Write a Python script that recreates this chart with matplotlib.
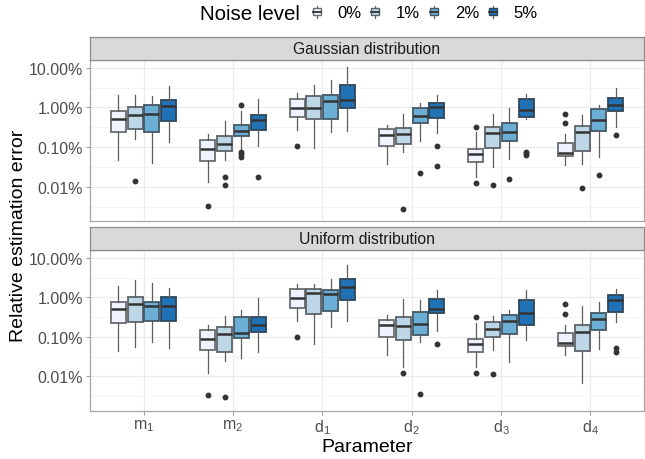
import numpy as np
import matplotlib
matplotlib.use("Agg")
import matplotlib.pyplot as plt
from matplotlib.patches import Rectangle, Patch
from matplotlib.lines import Line2D
from matplotlib.legend_handler import HandlerBase
from matplotlib.colors import to_rgb

plt.rcParams['font.family'] = ['Liberation Sans', 'DejaVu Sans']
plt.rcParams['mathtext.default'] = 'regular'

# categories
param_labels = [r'$m_1$', r'$m_2$', r'$d_1$', r'$d_2$', r'$d_3$', r'$d_4$']
noise_levels = ['0%', '1%', '2%', '5%']
colors = ['#EFF3FF', '#BDD7E7', '#6BAED6', '#2171B5']
facets = ['Gaussian distribution', 'Uniform distribution']

# log10 of the relative error in percent, per parameter -> per noise level:
# (whisker low, q1, median, q3, whisker high)
gauss_box = [
    [(-1.335, -0.63, -0.285, -0.09, 0.32), (-0.79, -0.55, -0.19, 0.0, 0.32),
     (-1.40, -0.62, -0.16, 0.06, 0.29), (-0.88, -0.34, 0.025, 0.19, 0.54)],
    [(-1.88, -1.34, -1.04, -0.81, -0.68), (-1.32, -1.10, -0.92, -0.73, -0.34),
     (-1.07, -0.72, -0.59, -0.44, -0.09), (-0.97, -0.57, -0.31, -0.18, 0.22)],
    [(-0.57, -0.24, -0.025, 0.22, 0.36), (-1.01, -0.29, -0.01, 0.29, 0.57),
     (-0.62, -0.28, 0.17, 0.31, 0.69), (-0.59, -0.02, 0.20, 0.56, 1.02)],
    [(-1.43, -0.98, -0.70, -0.55, -0.44), (-1.11, -0.91, -0.67, -0.51, -0.17),
     (-0.85, -0.39, -0.21, -0.015, 0.11), (-0.645, -0.27, 0.01, 0.11, 0.32)],
    [(-1.74, -1.37, -1.17, -1.05, -0.62), (-1.49, -1.02, -0.64, -0.49, -0.17),
     (-1.31, -0.85, -0.61, -0.40, -0.015), (-0.30, -0.25, -0.06, 0.21, 0.345)],
    [(-1.44, -1.22, -1.14, -0.90, -0.67), (-1.42, -1.10, -0.61, -0.47, -0.18),
     (-1.26, -0.59, -0.31, -0.05, 0.07), (-0.48, -0.09, 0.07, 0.25, 0.48)],
]
gauss_out = [
    [[], [-1.84], [], []],
    [[-2.47], [-1.74, -1.95], [0.05, -1.12, -1.18, -1.24], [-1.75]],
    [[-0.98], [], [], []],
    [[], [-2.56], [-1.64], [-0.96, -1.48]],
    [[-0.49, -1.91], [-1.95], [-1.80], [-1.11, -1.15, -1.20]],
    [[-0.17, -0.39], [-2.04], [-1.69], [-0.70]],
]

unif_box = [
    [(-1.36, -0.645, -0.30, -0.12, 0.295), (-1.26, -0.62, -0.18, 0.02, 0.44),
     (-1.12, -0.59, -0.23, -0.12, 0.36), (-1.27, -0.59, -0.22, 0.0, 0.24)],
    [(-1.90, -1.34, -1.05, -0.83, -0.695), (-1.62, -1.37, -0.92, -0.76, -0.48),
     (-1.54, -1.03, -0.90, -0.50, -0.32), (-1.385, -0.88, -0.705, -0.51, -0.015)],
    [(-0.59, -0.27, -0.03, 0.21, 0.34), (-1.18, -0.41, 0.11, 0.21, 0.345),
     (-0.755, -0.335, 0.09, 0.19, 0.47), (-0.60, -0.06, 0.27, 0.47, 0.82)],
    [(-1.45, -1.0, -0.71, -0.57, -0.44), (-1.75, -1.07, -0.73, -0.51, -0.04),
     (-1.14, -0.94, -0.67, -0.36, -0.06), (-0.86, -0.39, -0.285, -0.04, 0.19)],
    [(-1.75, -1.375, -1.18, -1.05, -0.64), (-1.32, -1.0, -0.81, -0.62, -0.47),
     (-1.63, -0.92, -0.60, -0.45, -0.32), (-1.07, -0.69, -0.40, -0.08, 0.19)],
    [(-1.45, -1.23, -1.16, -0.91, -0.695), (-2.16, -1.35, -0.88, -0.71, -0.23),
     (-1.30, -0.83, -0.55, -0.39, -0.12), (-0.62, -0.36, -0.075, 0.06, 0.21)],
]
unif_out = [
    [[], [], [], []],
    [[-2.48], [-2.53], [], []],
    [[-1.0], [], [], []],
    [[], [-1.90], [-2.45], [-1.17]],
    [[-0.50, -1.92], [-1.95], [], []],
    [[-0.18, -0.41], [], [], [-1.27, -1.39]],
]

y_ticks = [0.01, 0.1, 1, 10]
y_ticklabels = ['0.01%', '0.10%', '1.00%', '10.00%']


def edge_of(fc):
    # darker outline, blended with the fill like ggplot's semi-transparent lines
    a = np.array(to_rgb('#333333'))
    b = np.array(to_rgb(fc))
    return tuple(0.7 * a + 0.3 * b)


W, H = 645, 460
fig = plt.figure(figsize=(W / 100, H / 100), dpi=100)


def px_axes(x0, y0, x1, y1):
    return fig.add_axes([x0 / W, (H - y1) / H, (x1 - x0) / W, (y1 - y0) / H])


def draw_panel(ax, boxes, outs):
    dodge = 0.1875
    for i in range(len(param_labels)):
        for j in range(len(noise_levels)):
            lo, q1, med, q3, hi = boxes[i][j]
            st = dict(whislo=10 ** lo, q1=10 ** q1, med=10 ** med, q3=10 ** q3,
                      whishi=10 ** hi, fliers=[10 ** v for v in outs[i][j]])
            pos = i + 1 + (j - 1.5) * dodge
            ec = edge_of(colors[j])
            ax.bxp([st], positions=[pos], widths=0.168, patch_artist=True,
                   showcaps=False,
                   boxprops=dict(facecolor=colors[j], edgecolor=ec, linewidth=1.3),
                   medianprops=dict(color='#333333', linewidth=1.8),
                   whiskerprops=dict(color='#5E5E5E', linewidth=0.9),
                   flierprops=dict(marker='o', markersize=3.2, markerfacecolor='#333333',
                                   markeredgecolor='#333333'),
                   zorder=3)
    ax.set_yscale('log')
    ax.set_ylim(10 ** -2.86, 10 ** 1.195)
    ax.set_xlim(0.4, 6.6)
    ax.set_yticks(y_ticks)
    ax.set_yticklabels(y_ticklabels)
    ax.set_yticks([10 ** -1.5, 10 ** -0.5, 10 ** 0.5, 10 ** -2.5], minor=True)
    ax.yaxis.set_minor_formatter(plt.NullFormatter())
    ax.set_xticks(range(1, 7))
    ax.grid(True, which='major', color='#EBEBEB', linewidth=0.9, zorder=0)
    ax.grid(True, which='minor', axis='y', color='#F3F3F3', linewidth=0.6, zorder=0)
    ax.set_axisbelow(True)
    ax.tick_params(axis='both', which='major', length=3, width=0.7, color='#999999',
                   labelsize=11.5, labelcolor='#4D4D4D', pad=2)
    ax.tick_params(axis='y', which='minor', length=0)
    for s in ax.spines.values():
        s.set_color('#A6A6A6')
        s.set_linewidth(0.9)


def draw_strip(x0, y0, x1, y1, text):
    sax = px_axes(x0, y0, x1, y1)
    sax.set_xticks([])
    sax.set_yticks([])
    sax.set_facecolor('#D9D9D9')
    for s in sax.spines.values():
        s.set_color('#8C8C8C')
        s.set_linewidth(0.9)
    sax.text(0.5, 0.5, text, ha='center', va='center', fontsize=11.3,
             color='#1A1A1A', transform=sax.transAxes)


ax_top = px_axes(90, 61, 644, 222)
draw_panel(ax_top, gauss_box, gauss_out)
ax_top.set_xticklabels([])
ax_top.tick_params(axis='x', length=0)
draw_strip(90, 38, 644, 61, facets[0])

ax_bot = px_axes(90, 251, 644, 411.5)
draw_panel(ax_bot, unif_box, unif_out)
ax_bot.set_xticklabels(param_labels, fontsize=11.5)
draw_strip(90, 228, 644, 251, facets[1])

ax_bot.set_xlabel('Parameter', fontsize=14, color='black', labelpad=1)
fig.text(19 / W, 1 - 236 / H, 'Relative estimation error', rotation=90,
         ha='center', va='center', fontsize=14)


class BoxKey(HandlerBase):
    def create_artists(self, legend, orig_handle, xdescent, ydescent,
                       width, height, fontsize, trans):
        fc = orig_handle.get_facecolor()
        cx = width / 2 - xdescent
        bw = width * 0.6
        y0 = -ydescent
        art = [
            Line2D([cx, cx], [y0, y0 + height], color='#666666',
                   linewidth=0.9, transform=trans),
            Rectangle((cx - bw / 2, y0 + 0.2 * height), bw, 0.6 * height,
                      facecolor=fc, edgecolor=edge_of(fc), linewidth=1.0, transform=trans),
            Line2D([cx - bw / 2, cx + bw / 2], [y0 + 0.5 * height] * 2, color='#333333',
                   linewidth=1.3, transform=trans),
        ]
        return art


handles = [Patch(facecolor=c) for c in colors]
fig.text(200 / W, 1 - 14 / H, 'Noise level', ha='left', va='center', fontsize=14.8)
leg = fig.legend(handles, noise_levels, loc='center left', bbox_to_anchor=(310 / W, 1 - 14 / H),
                 ncol=4, frameon=False, fontsize=12, handler_map={Patch: BoxKey()},
                 handlelength=0.8, handleheight=0.7, handletextpad=0.85, columnspacing=0.42,
                 borderpad=0, borderaxespad=0)

fig.savefig('out.png', dpi=100)
